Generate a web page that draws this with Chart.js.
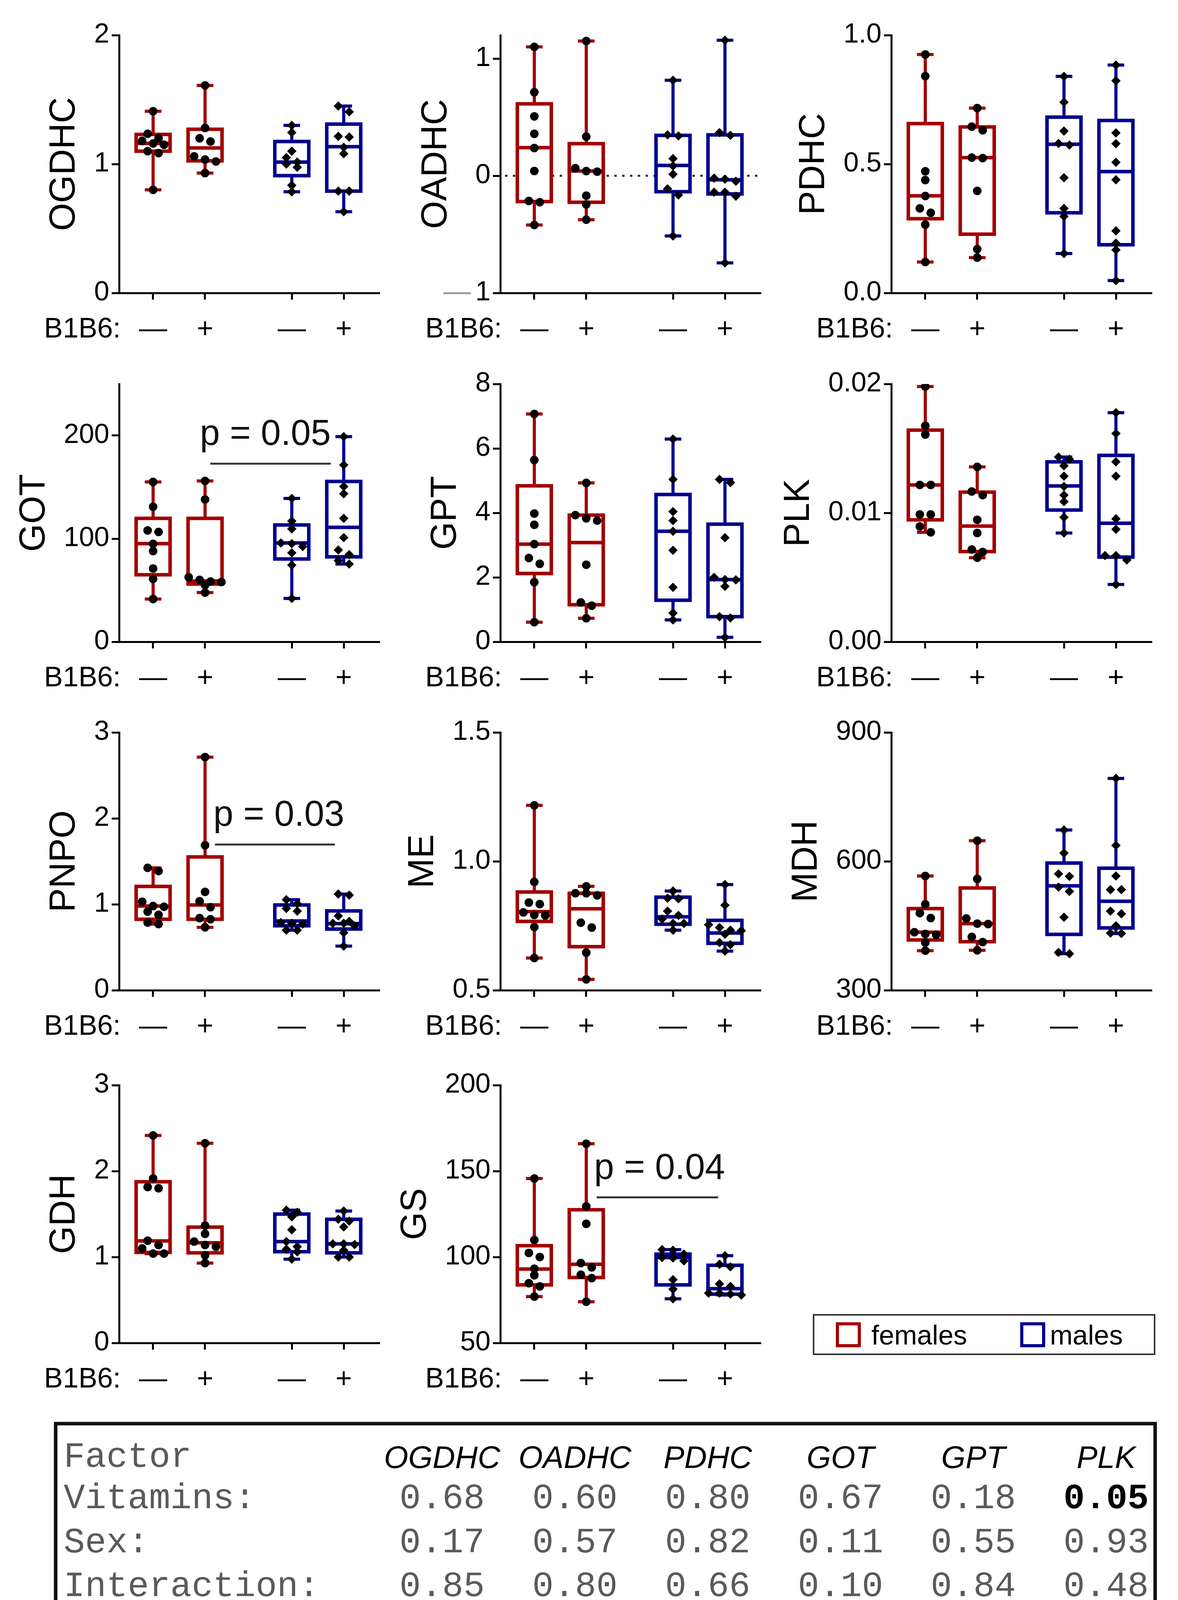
<!DOCTYPE html>
<html>
<head>
<meta charset="utf-8">
<script src="https://cdn.jsdelivr.net/npm/chart.js@4.4.1/dist/chart.umd.min.js"></script>
<style>
  body { margin: 0; background: #fff; width: 3016px; height: 4678px; position: relative; overflow: hidden;
         font-family: "Liberation Sans", Arial, sans-serif; }
  canvas { position: absolute; }
  #legend { position: absolute; left: 2081px; top: 3364px; width: 877px; height: 105px; box-sizing: border-box;
            border: 4px solid #333; }
  .sw { position: absolute; top: 17px; width: 64px; height: 64px; box-sizing: border-box; border: 8px solid; }
  .lt { position: absolute; top: 15px; font-size: 70px; line-height: 70px; color: #000; }
  #table { position: absolute; left: 138px; top: 3640px; width: 2824px; height: 996px; box-sizing: border-box;
           border: 9px solid #111; }
  .cell { position: absolute; white-space: pre; line-height: 90px; }
  .mono { font-family: "Liberation Mono", "DejaVu Sans Mono", monospace; font-size: 91px; color: #5a5a5a; }
  .bold { font-weight: bold; color: #000; }
  .head { font-family: "Liberation Sans", Arial, sans-serif; font-style: italic; font-size: 80px; color: #000; }
</style>
</head>
<body>
<div id="charts"></div>
<div id="legend">
  <div class="sw" style="left:55px;border-color:#a30000"></div>
  <div class="lt" style="left:146px">females</div>
  <div class="sw" style="left:527px;border-color:#000090"></div>
  <div class="lt" style="left:603px">males</div>
</div>
<div id="table"></div>
<script>
// groups: females -, females +, males -, males +
const groupSigns = ["—", "+", "—", "+"];
const groupPos = [1, 2, 3.67, 4.67];

const ogdhcPoints = [
  [1.41, 1.235, 1.20, 1.18, 1.16, 1.15, 1.10, 1.085, 0.80],
  [1.61, 1.28, 1.20, 1.175, 1.06, 1.035, 1.02, 0.93],
  [1.30, 1.245, 1.10, 1.05, 1.015, 1.00, 0.975, 0.835, 0.785],
  [1.45, 1.405, 1.215, 1.21, 1.13, 1.08, 0.79, 0.79, 0.63]
];
const ogdhcBoxes = [[1.10, 1.16, 1.23], [1.025, 1.125, 1.27], [0.91, 1.015, 1.175], [0.79, 1.135, 1.31]];
const ogdhcTicks = [0, 1, 2];

const oadhcPoints = [
  [1.10, 0.713, 0.507, 0.358, 0.237, 0.041, -0.215, -0.226, -0.42],
  [1.15, 0.334, 0.065, 0.04, 0.035, -0.17, -0.244, -0.375],
  [0.815, 0.349, 0.34, 0.147, 0.084, 0.013, -0.112, -0.164, -0.513],
  [1.157, 0.368, 0.345, -0.02, -0.028, -0.047, -0.14, -0.14, -0.174, -0.743]
];
const oadhcBoxes = [[-0.22, 0.24, 0.614], [-0.226, 0.041, 0.274], [-0.136, 0.088, 0.345], [-0.155, -0.034, 0.349]];
const oadhcTicks = [-1, 0, 1];

const pdhcPoints = [
  [0.925, 0.841, 0.472, 0.438, 0.376, 0.328, 0.311, 0.265, 0.12],
  [0.717, 0.645, 0.631, 0.525, 0.523, 0.396, 0.17, 0.137],
  [0.84, 0.74, 0.628, 0.58, 0.574, 0.447, 0.328, 0.297, 0.153],
  [0.884, 0.823, 0.621, 0.579, 0.507, 0.439, 0.241, 0.193, 0.167, 0.048]
];
const pdhcBoxes = [[0.288, 0.377, 0.657], [0.228, 0.525, 0.644], [0.311, 0.577, 0.682], [0.187, 0.471, 0.669]];
const pdhcTicks = [0, 0.5, 1];

const gotPoints = [
  [155, 131, 108, 106.5, 95, 88, 71, 61, 41.5],
  [156, 138, 62.6, 60, 58.4, 58, 55, 47.7],
  [139, 117, 109.5, 95.8, 95.2, 92.4, 86.3, 74.3, 42],
  [199, 171.5, 150.6, 143.6, 119.7, 101, 89, 84.6, 78.8, 75.4]
];
const gotBoxes = [[65, 95.2, 119.7], [56, 59, 119.7], [80.3, 95.8, 113.3], [82.4, 111, 155.5]];
const gotTicks = [0, 100, 200];

const gptPoints = [
  [7.07, 5.64, 3.98, 3.63, 3.03, 2.6, 2.42, 1.85, 0.61],
  [4.93, 3.93, 3.83, 3.76, 2.39, 1.22, 1.12, 0.73],
  [6.29, 5.04, 4.04, 3.76, 3.43, 2.84, 1.69, 0.89, 0.68],
  [5.04, 4.94, 3.23, 2.0, 1.93, 1.92, 1.72, 0.78, 0.74, 0.14]
];
const gptBoxes = [[2.12, 3.03, 4.84], [1.15, 3.08, 3.93], [1.29, 3.43, 4.57], [0.78, 1.93, 3.65]];
const gptTicks = [0, 2, 4, 6, 8];

const plkPoints = [
  [0.0198, 0.01676, 0.01608, 0.01217, 0.01217, 0.00988, 0.00988, 0.00895, 0.00849],
  [0.01357, 0.01166, 0.01138, 0.00946, 0.00844, 0.00716, 0.00696, 0.00652],
  [0.01433, 0.01416, 0.01365, 0.01285, 0.01205, 0.01138, 0.01087, 0.00966, 0.00844],
  [0.01777, 0.01616, 0.01396, 0.01285, 0.00954, 0.00873, 0.00669, 0.00669, 0.00635, 0.00445]
];
const plkBoxes = [[0.00946, 0.01217, 0.01642], [0.0070, 0.00898, 0.01161], [0.01022, 0.01209, 0.01396], [0.00657, 0.0092, 0.01446]];
const plkTicks = [0, 0.01, 0.02];

const pnpoPoints = [
  [1.424, 1.386, 1.03, 0.979, 0.972, 0.915, 0.877, 0.788, 0.77],
  [2.713, 1.686, 1.144, 1.035, 0.966, 0.839, 0.826, 0.732],
  [1.053, 1.007, 0.951, 0.92, 0.788, 0.78, 0.77, 0.699, 0.699],
  [1.119, 1.107, 0.865, 0.801, 0.78, 0.78, 0.75, 0.669, 0.514]
];
const pnpoBoxes = [[0.826, 0.979, 1.208], [0.826, 0.992, 1.551], [0.75, 0.806, 0.992], [0.712, 0.775, 0.923]];
const pnpoTicks = [0, 1, 2, 3];

const mePoints = [
  [1.217, 0.92, 0.84, 0.834, 0.802, 0.792, 0.79, 0.745, 0.625],
  [0.903, 0.876, 0.876, 0.868, 0.762, 0.743, 0.646, 0.542],
  [0.885, 0.857, 0.855, 0.807, 0.79, 0.776, 0.759, 0.759, 0.733],
  [0.91, 0.83, 0.754, 0.743, 0.733, 0.731, 0.717, 0.685, 0.677, 0.652]
];
const meBoxes = [[0.767, 0.805, 0.881], [0.669, 0.816, 0.876], [0.756, 0.785, 0.861], [0.682, 0.722, 0.771]];
const meTicks = [0.5, 1.0, 1.5];

const mdhPoints = [
  [566, 500, 479.5, 468, 435, 431, 429, 411, 392],
  [648, 559, 467, 455, 454, 424, 412, 393],
  [673, 619, 571, 565, 540, 530, 470, 388, 385],
  [793, 637, 566, 534, 534, 484, 478, 450, 433, 432]
];
const mdhBoxes = [[417, 435, 490], [413, 455, 538], [430, 543, 596], [445, 507, 584]];
const mdhTicks = [300, 600, 900];

const gdhPoints = [
  [2.415, 1.915, 1.815, 1.80, 1.19, 1.14, 1.10, 1.04, 1.04],
  [2.324, 1.366, 1.27, 1.18, 1.14, 1.12, 1.02, 0.93],
  [1.546, 1.52, 1.468, 1.317, 1.18, 1.12, 1.09, 1.06, 0.975],
  [1.535, 1.44, 1.418, 1.35, 1.153, 1.153, 1.145, 1.08, 1.0, 1.0]
];
const gdhBoxes = [[1.054, 1.187, 1.876], [1.049, 1.166, 1.348], [1.062, 1.18, 1.50], [1.049, 1.153, 1.439]];
const gdhTicks = [0, 1, 2, 3];

const gsPoints = [
  [145.7, 109.9, 102.4, 100, 93.2, 89.4, 84.8, 82.9, 77],
  [165.9, 129.5, 119.3, 96.5, 94, 89.7, 87.7, 74],
  [104.3, 103.9, 101.7, 99.7, 99.5, 97.8, 86.8, 81.3, 75.7],
  [100.8, 95.8, 94.3, 84.4, 82.9, 79, 79, 78.4, 77.9]
];
const gsBoxes = [[83.8, 93, 106.6], [88.1, 95.8, 127.5], [83.8, 99.7, 101.7], [78.4, 81.6, 95.2]];
const gsTicks = [50, 100, 150, 200];

const gotPValue = "p = 0.05";
const pnpoPValue = "p = 0.03";
const gsPValue = "p = 0.04";

// two-way ANOVA table
const tableFactors = ["Vitamins:", "Sex:", "Interaction:"];
const tableGenes1 = ["OGDHC", "OADHC", "PDHC", "GOT", "GPT", "PLK"];
const vitamins1 = ["0.68", "0.60", "0.80", "0.67", "0.18", "0.05"];
const sex1 = ["0.17", "0.57", "0.82", "0.11", "0.55", "0.93"];
const interaction1 = ["0.85", "0.80", "0.66", "0.10", "0.84", "0.48"];
const tableGenes2 = ["PNPO", "ME", "MDH", "GDH", "GS"];
const vitamins2 = ["0.31", "0.12", "0.67", "0.36", "0.99"];
const sex2 = ["0.85", "0.32", "0.04", "0.20", "0.04"];
const interaction2 = ["0.22", "0.93", "0.83", "0.47", "0.18"];

const RED = "#a30000";
const BLUE = "#000090";
const FONT = '"Liberation Sans", Arial, sans-serif';
const AXIS_X = 305, AREA_W = 665, AREA_H = 660, TOP_PAD = 90;
const X_MIN = 0.346, X_MAX = 5.346;
const BOX_W = 0.654, CAP_W = 0.32, STEP = 0.21;
const colLeft = [0, 976, 1977];
const rowTop = [0, 893, 1785, 2688];

const fmt0 = v => String(v);
const fmt1 = v => v.toFixed(1);
const fmt2 = v => v.toFixed(2);

const panels = [
  { name: "OGDHC", points: ogdhcPoints, boxes: ogdhcBoxes, ticks: ogdhcTicks, min: 0, max: 2, fmt: fmt0, col: 0, row: 0 },
  { name: "OADHC", points: oadhcPoints, boxes: oadhcBoxes, ticks: oadhcTicks, min: -1, max: 1.2,
    fmt: v => (v < 0 ? String(-v) : String(v)), col: 1, row: 0, zeroLine: true, minusDash: true, titleShift: -24 },
  { name: "PDHC", points: pdhcPoints, boxes: pdhcBoxes, ticks: pdhcTicks, min: 0, max: 1, fmt: fmt1, col: 2, row: 0 },
  { name: "GOT", points: gotPoints, boxes: gotBoxes, ticks: gotTicks, min: 0, max: 250, fmt: fmt0, col: 0, row: 1,
    note: { text: gotPValue, tx: 3.16, ty: 191, x1: 2.1, x2: 4.42, ly: 172.7 } },
  { name: "GPT", points: gptPoints, boxes: gptBoxes, ticks: gptTicks, min: 0, max: 8, fmt: fmt0, col: 1, row: 1 },
  { name: "PLK", points: plkPoints, boxes: plkBoxes, ticks: plkTicks, min: 0, max: 0.02, fmt: fmt2, col: 2, row: 1 },
  { name: "PNPO", points: pnpoPoints, boxes: pnpoBoxes, ticks: pnpoTicks, min: 0, max: 3, fmt: fmt0, col: 0, row: 2,
    note: { text: pnpoPValue, tx: 3.42, ty: 1.912, x1: 2.19, x2: 4.5, ly: 1.695 } },
  { name: "ME", points: mePoints, boxes: meBoxes, ticks: meTicks, min: 0.5, max: 1.5, fmt: fmt1, col: 1, row: 2 },
  { name: "MDH", points: mdhPoints, boxes: mdhBoxes, ticks: mdhTicks, min: 300, max: 900, fmt: fmt0, col: 2, row: 2 },
  { name: "GDH", points: gdhPoints, boxes: gdhBoxes, ticks: gdhTicks, min: 0, max: 3, fmt: fmt0, col: 0, row: 3 },
  { name: "GS", points: gsPoints, boxes: gsBoxes, ticks: gsTicks, min: 50, max: 200, fmt: fmt0, col: 1, row: 3,
    note: { text: gsPValue, tx: 3.41, ty: 145.4, x1: 2.2, x2: 4.54, ly: 134.7 } }
];

// spread overlapping points sideways (simple swarm, at most 4 side by side)
function swarm(values, pxPerUnit) {
  const order = values.map((v, i) => i).sort((a, b) => values[b] - values[a]);
  const offs = new Array(values.length).fill(0);
  let i = 0;
  while (i < order.length) {
    let j = i + 1;
    while (j < order.length && j - i < 4 && (values[order[i]] - values[order[j]]) * pxPerUnit < 16) j++;
    const n = j - i;
    for (let k = 0; k < n; k++) offs[order[i + k]] = (k - (n - 1) / 2) * STEP;
    i = j;
  }
  return offs;
}

const measure = document.createElement("canvas").getContext("2d");

function boxPlugin(p) {
  return {
    id: "boxes",
    beforeDatasetsDraw(chart) {
      const { ctx, scales: { x, y }, chartArea } = chart;
      ctx.save();
      if (p.zeroLine) {
        ctx.strokeStyle = "#222";
        ctx.lineWidth = 5;
        ctx.setLineDash([6, 14]);
        ctx.beginPath();
        ctx.moveTo(chartArea.left + 12, y.getPixelForValue(0));
        ctx.lineTo(chartArea.right, y.getPixelForValue(0));
        ctx.stroke();
        ctx.setLineDash([]);
      }
      ctx.lineCap = "butt";
      p.boxes.forEach((b, g) => {
        const pts = p.points[g];
        const lo = Math.min(...pts), hi = Math.max(...pts);
        const cx = x.getPixelForValue(groupPos[g]);
        const left = x.getPixelForValue(groupPos[g] - BOX_W / 2);
        const right = x.getPixelForValue(groupPos[g] + BOX_W / 2);
        const cl = x.getPixelForValue(groupPos[g] - CAP_W / 2);
        const cr = x.getPixelForValue(groupPos[g] + CAP_W / 2);
        const yq1 = y.getPixelForValue(b[0]), ymed = y.getPixelForValue(b[1]), yq3 = y.getPixelForValue(b[2]);
        const yhi = y.getPixelForValue(hi), ylo = y.getPixelForValue(lo);
        ctx.strokeStyle = g < 2 ? RED : BLUE;
        ctx.lineWidth = 8;
        ctx.beginPath();
        ctx.moveTo(cx, yq3); ctx.lineTo(cx, yhi);
        ctx.moveTo(cx, yq1); ctx.lineTo(cx, ylo);
        ctx.moveTo(cl, yhi); ctx.lineTo(cr, yhi);
        ctx.moveTo(cl, ylo); ctx.lineTo(cr, ylo);
        ctx.stroke();
        ctx.fillStyle = "#fff";
        ctx.fillRect(left, yq3, right - left, yq1 - yq3);
        ctx.lineWidth = 9;
        ctx.strokeRect(left, yq3, right - left, yq1 - yq3);
        ctx.beginPath();
        ctx.moveTo(left, ymed); ctx.lineTo(right, ymed);
        ctx.stroke();
      });
      ctx.restore();
    },
    afterDraw(chart) {
      const { ctx, scales: { x, y }, chartArea } = chart;
      ctx.save();
      ctx.fillStyle = "#000";
      ctx.font = "72px " + FONT;
      ctx.textBaseline = "middle";
      const ly = chartArea.bottom + 94;
      ctx.textAlign = "right";
      ctx.fillText("B1B6:", chartArea.left + 4, ly);
      ctx.textAlign = "center";
      groupSigns.forEach((s, g) => ctx.fillText(s, x.getPixelForValue(groupPos[g]), ly));
      if (p.minusDash) {
        measure.font = "70px " + FONT;
        const w = measure.measureText(p.fmt(-1)).width;
        ctx.fillStyle = "#999";
        ctx.font = "70px " + FONT;
        ctx.textAlign = "right";
        ctx.fillText("—", chartArea.left - 25 - w - 12, y.getPixelForValue(-1));
      }
      if (p.note) {
        const n = p.note;
        ctx.strokeStyle = "#333";
        ctx.lineWidth = 5;
        ctx.beginPath();
        ctx.moveTo(x.getPixelForValue(n.x1), y.getPixelForValue(n.ly));
        ctx.lineTo(x.getPixelForValue(n.x2), y.getPixelForValue(n.ly));
        ctx.stroke();
        ctx.fillStyle = "#111";
        ctx.font = "92px " + FONT;
        ctx.textAlign = "center";
        ctx.textBaseline = "alphabetic";
        ctx.fillText(n.text, x.getPixelForValue(n.tx), y.getPixelForValue(n.ty));
      }
      ctx.restore();
    }
  };
}

Chart.defaults.font.family = FONT;
const holder = document.getElementById("charts");

panels.forEach(p => {
  const canvas = document.createElement("canvas");
  canvas.width = 1000;
  canvas.height = 880;
  canvas.style.left = colLeft[p.col] + "px";
  canvas.style.top = rowTop[p.row] + "px";
  holder.appendChild(canvas);

  const pxPerUnit = AREA_H / (p.max - p.min);
  const datasets = p.points.map((vals, g) => {
    const offs = swarm(vals, pxPerUnit);
    return {
      data: vals.map((v, i) => ({ x: groupPos[g] + offs[i], y: v })),
      pointStyle: g < 2 ? "circle" : "rectRot",
      pointRadius: g < 2 ? 11 : 12,
      backgroundColor: "#000",
      borderWidth: 0,
      showLine: false
    };
  });

  measure.font = "70px " + FONT;
  const labW = Math.max(...p.ticks.map(t => measure.measureText(p.fmt(t)).width));
  const titleCenter = AXIS_X - 19 - 6 - labW - 75 + (p.titleShift || 0);

  new Chart(canvas, {
    type: "scatter",
    data: { datasets },
    plugins: [boxPlugin(p)],
    options: {
      responsive: false,
      animation: false,
      devicePixelRatio: 1,
      layout: { padding: { top: TOP_PAD, right: 1000 - AXIS_X - AREA_W, left: 0, bottom: 0 } },
      plugins: { legend: { display: false }, tooltip: { enabled: false } },
      scales: {
        x: {
          type: "linear", min: X_MIN, max: X_MAX,
          afterBuildTicks: s => { s.ticks = groupPos.map(v => ({ value: v })); },
          afterFit: s => { s.height = 880 - TOP_PAD - AREA_H; },
          ticks: { display: false },
          grid: { display: true, drawOnChartArea: false, drawTicks: true, tickLength: 17, tickWidth: 5,
                  lineWidth: 5, color: "#000", tickColor: "#000" },
          border: { display: true, color: "#000", width: 5 }
        },
        y: {
          type: "linear", min: p.min, max: p.max,
          afterBuildTicks: s => { s.ticks = p.ticks.map(v => ({ value: v })); },
          afterFit: s => { s.width = AXIS_X; },
          ticks: { callback: v => p.fmt(v), font: { size: 70, family: FONT }, color: "#000", padding: 6 },
          grid: { display: true, drawOnChartArea: false, drawTicks: true, tickLength: 19, tickWidth: 5,
                  lineWidth: 5, color: "#000", tickColor: "#000" },
          border: { display: true, color: "#000", width: 5 },
          title: { display: true, text: p.name, color: "#000", font: { size: 92, family: FONT },
                   padding: { top: titleCenter - 92 * 1.2 / 2, bottom: 0 } }
        }
      }
    }
  });
});

// ANOVA table as text
const table = document.getElementById("table");
const valueCenters = [985, 1325, 1665, 2005, 2345, 2685];
function addCell(text, x, capY, cls, center) {
  const d = document.createElement("div");
  d.className = "cell " + cls;
  d.textContent = text;
  d.style.top = (capY - 3640 - 9 - 42) + "px";
  if (center) {
    d.style.left = (x - 400) + "px";
    d.style.width = "800px";
    d.style.textAlign = "center";
  } else {
    d.style.left = x + "px";
  }
  table.appendChild(d);
}
function addBlock(genes, rows, yRows) {
  addCell("Factor", 16, yRows[0], "mono", false);
  genes.forEach((g, i) => addCell(g, valueCenters[i], yRows[0], "head", true));
  rows.forEach((vals, r) => {
    addCell(tableFactors[r], 16, yRows[r + 1], "mono", false);
    vals.forEach((v, i) => addCell(v, valueCenters[i], yRows[r + 1], parseFloat(v) <= 0.05 ? "mono bold" : "mono", true));
  });
}
addBlock(tableGenes1, [vitamins1, sex1, interaction1], [3728, 3834, 3947, 4059]);
addBlock(tableGenes2, [vitamins2, sex2, interaction2], [4220, 4326, 4438, 4552]);
</script>
</body>
</html>
